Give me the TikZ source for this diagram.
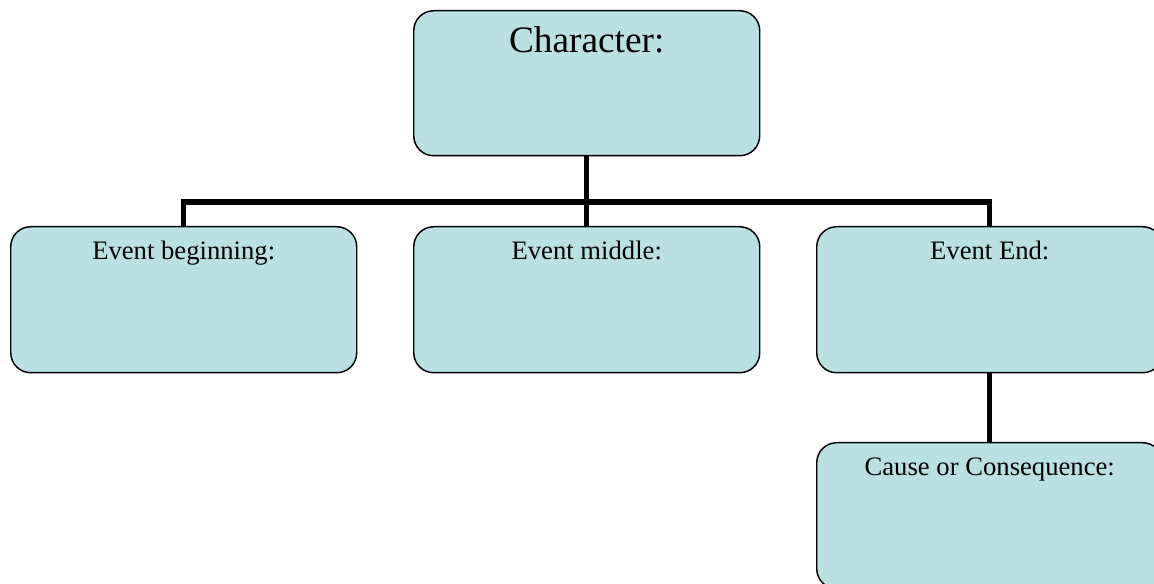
\documentclass[tikz,border=0pt]{standalone}
\usepackage{fontspec}
\setmainfont{Liberation Serif}
\definecolor{boxfill}{RGB}{186,224,227}
\begin{document}
\begin{tikzpicture}[x=0.75pt,y=-0.75pt,
  card/.style={draw=black,line width=1.1pt,fill=boxfill,rounded corners=15pt,
    minimum width=346*0.75pt,inner sep=0pt,anchor=north west},
  lbl/.style={anchor=base,inner sep=0pt,font=\fontsize{20pt}{24pt}\selectfont},
  big/.style={anchor=base,inner sep=0pt,font=\fontsize{28pt}{32pt}\selectfont},
  link/.style={line width=3.8pt,draw=black}]
\clip (0,0) rectangle (1154,584);
\useasboundingbox (0,0) rectangle (1154,584);
\node[card,minimum height=145*0.75pt] (char) at (413,10) {};
\node[card,minimum height=146*0.75pt] (beg) at (10,226) {};
\node[card,minimum height=146*0.75pt] (mid) at (413,226) {};
\node[card,minimum height=146*0.75pt] (fin) at (816,226) {};
\node[card,minimum height=146*0.75pt] (cause) at (816,442) {};
\node[big] (tchar) at ([yshift=-43*0.75pt]char.north) {Character:};
\node[lbl] (tbeg) at ([yshift=-34*0.75pt]beg.north) {Event beginning:};
\node[lbl] (tmid) at ([yshift=-34*0.75pt]mid.north) {Event middle:};
\node[lbl] (tfin) at ([yshift=-34*0.75pt]fin.north) {Event End:};
\node[lbl] (tcause) at ([yshift=-34*0.75pt]cause.north) {Cause or Consequence:};
\coordinate (bus) at (586,202);
\draw[link] (char.south) -- (mid.north);
\draw[link] (beg.north) -- (beg.north |- bus) -| (fin.north);
\draw[link] (fin.south) -- (cause.north);
\end{tikzpicture}
\end{document}
